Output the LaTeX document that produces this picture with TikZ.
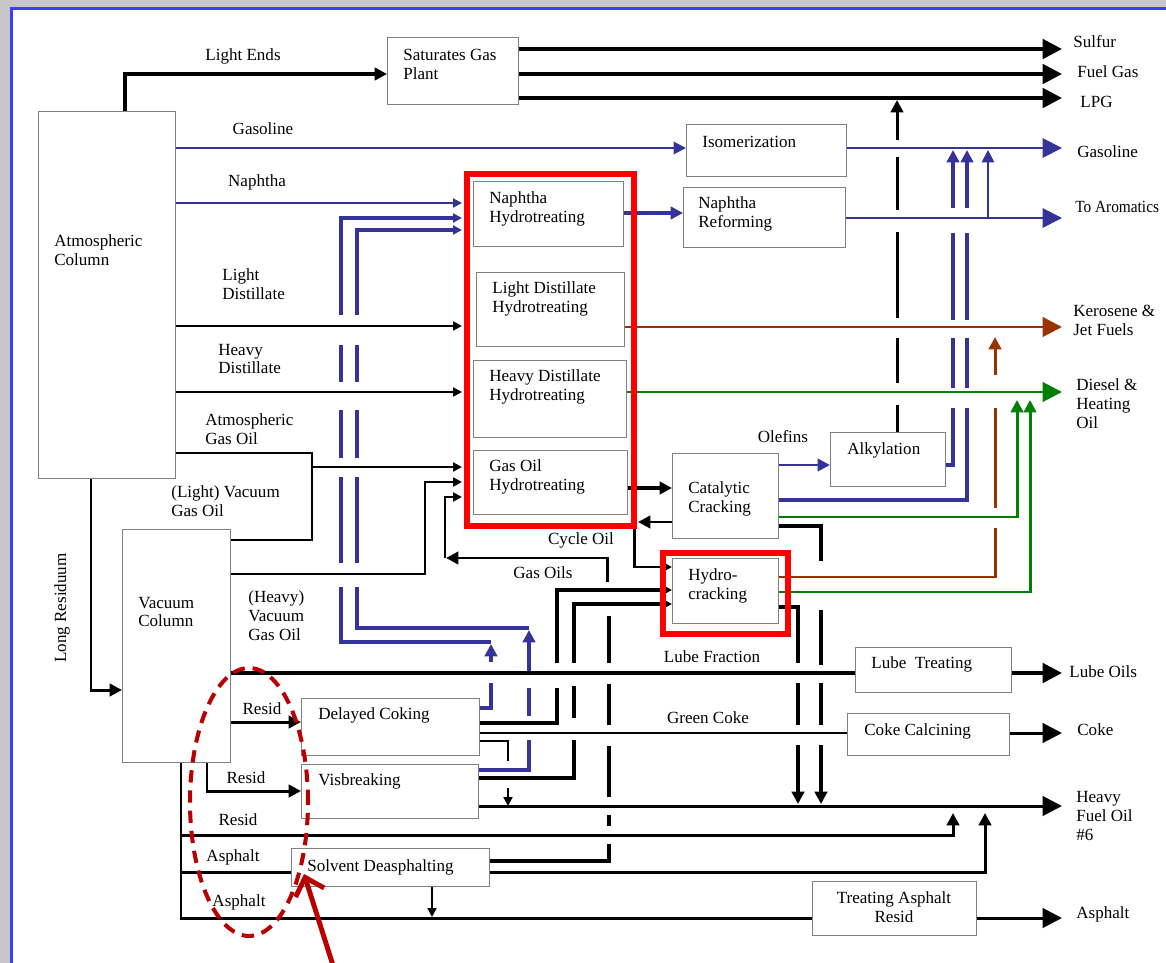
\documentclass[tikz,border=0pt]{standalone}
\usepackage{fontspec}
\setmainfont{Liberation Serif}
\usetikzlibrary{arrows.meta,calc}

\definecolor{navy}{RGB}{51,51,153}
\definecolor{rust}{RGB}{153,51,0}
\definecolor{leaf}{RGB}{0,128,0}
\definecolor{hired}{RGB}{255,0,0}
\definecolor{wine}{RGB}{185,0,0}
\definecolor{edgeblue}{RGB}{60,60,255}

\begin{document}
\begin{tikzpicture}[
    x=0.02cm, y=-0.02cm,
    box/.style 2 args={draw=black!50, line width=0.8pt, fill=white, inner sep=0pt, anchor=north west,
        minimum width=#1*0.02cm, minimum height=#2*0.02cm},
    hilite/.style 2 args={draw=hired, line width=3.4pt, inner sep=0pt, anchor=north west,
        minimum width=#1*0.02cm, minimum height=#2*0.02cm},
    txt/.style={font=\fontsize{9.7}{10.8}\selectfont, align=left, inner sep=0pt},
    blk/.style={line width=2.2pt},
    mdl/.style={line width=1.7pt},
    thn/.style={line width=1.2pt},
    nv/.style={draw=navy, line width=1.1pt},
    nvb/.style={draw=navy, line width=2pt},
    brn/.style={draw=rust, line width=1.7pt},
    grn/.style={draw=leaf, line width=1.7pt},
    tipL/.style={-{Triangle[length=11pt,width=11pt]}},
    tipM/.style={-{Triangle[length=7pt,width=7pt]}},
    tipS/.style={-{Triangle[length=5pt,width=5pt]}}
]
\useasboundingbox (0,0) rectangle (1166,963);

% frame
\fill[black!22] (0,0) rectangle (1166,963);
\draw[edgeblue, line width=2pt, fill=white] (11.5,8.5) rectangle (1200,1000);

% Units
\node[box={137}{367}] (atm) at (38,111) {};
\node[box={131}{67}] (sgp) at (387,37) {};
\node[box={160}{52}] (iso) at (686,124) {};
\node[box={162}{60}] (nref) at (683,187) {};
\node[box={150}{65}] (nht) at (473,181) {};
\node[box={148}{74}] (ldh) at (476,272) {};
\node[box={153}{77}] (hdh) at (473,360) {};
\node[box={154}{64}] (goh) at (473,450) {};
\node[box={106}{85}] (fcc) at (672,453) {};
\node[box={115}{54}] (alky) at (830,432) {};
\node[box={106}{65}] (hcr) at (672,558) {};
\node[box={108}{233}] (vac) at (122,529) {};
\node[box={178}{57}] (dcok) at (301,698) {};
\node[box={177}{54}] (visb) at (301,764) {};
\node[box={198}{38}] (sda) at (291,848) {};
\node[box={156}{45}] (lube) at (855,647) {};
\node[box={162}{42}] (coke) at (847,713) {};
\node[box={164}{54}] (tar) at (812,881) {};

% Unit names
\node[txt, anchor=west] (atmt) at (54,250) {Atmospheric\\Column};
\node[txt, anchor=west] (sgpt) at (403,64) {Saturates Gas\\Plant};
\node[txt, anchor=west] (isot) at (702,142) {Isomerization};
\node[txt, anchor=west] (nreft) at (698,214) {Naphtha\\Reforming};
\node[txt, anchor=west] (nhtt) at (489,209) {Naphtha\\Hydrotreating};
\node[txt, anchor=west] (ldht) at (492,299) {Light Distillate\\Hydrotreating};
\node[txt, anchor=west] (hdht) at (489,387) {Heavy Distillate\\Hydrotreating};
\node[txt, anchor=west] (goht) at (489,477) {Gas Oil\\Hydrotreating};
\node[txt, anchor=west] (fcct) at (688,499) {Catalytic\\Cracking};
\node[txt, anchor=west] (alkyt) at (847,450) {Alkylation};
\node[txt, anchor=west] (hcrt) at (688,586) {Hydro-\\cracking};
\node[txt, anchor=west] (vact) at (138,612) {Vacuum\\Column};
\node[txt, anchor=west] (dcokt) at (318,715) {Delayed Coking};
\node[txt, anchor=west] (visbt) at (318,781) {Visbreaking};
\node[txt, anchor=west] (sdat) at (307,867) {Solvent Deasphalting};
\node[txt, anchor=west] (lubet) at (871,664) {Lube\ \ Treating};
\node[txt, anchor=west] (coket) at (864,731) {Coke Calcining};
\node[txt, align=center] (tart) at (894,907) {Treating Asphalt\\Resid};

% Atmospheric column cuts
\draw[blk, tipM] (atm.north -| 125,0) |- (sgp.west |- 0,74);
\foreach \yy in {49,74,98} \draw[blk, tipL] (sgp.east |- 0,\yy) -- (1062,\yy);
\draw[nv, tipM] (atm.east |- 0,148) -- (iso.west |- 0,148);
\draw[nv, tipL] (iso.east |- 0,148) -- (1062,148);
\draw[nv, tipS] (atm.east |- 0,203) -- (462,203);
\draw[thn, tipS] (atm.east |- 0,326) -- (462,326);
\draw[thn, tipS] (atm.east |- 0,392) -- (462,392);
\draw[mdl] (atm.east |- 0,453) -- (312,453) -- (312,540) -- (vac.east |- 0,540);
\draw[thn, tipS] (312,467) -- (462,467);
\draw[mdl, tipS] (vac.east |- 0,574) -- (425,574) -- (425,482) -- (462,482);
\draw[mdl, tipM] (atm.south -| 91,0) |- (vac.west |- 0,690);

% Hydrotreater products
\draw[nvb, tipM] (nht.east |- 0,213) -- (nref.west |- 0,213);
\draw[nv, tipL] (nref.east |- 0,218) -- (1062,218);
\draw[brn, tipL] (ldh.east |- 0,327) -- (1062,327);
\draw[grn, tipL] (hdh.east |- 0,392) -- (1062,392);
\draw[blk, tipM] (goh.east |- 0,488) -- (fcc.west |- 0,488);

% Cycle oil and gas oils
\draw[mdl, tipM] (fcc.west |- 0,522) -- (638,522);
\draw[mdl, tipS] (634,526) -- (634,567) -- (hcr.west |- 0,567);
\draw[mdl, tipM] (607,582) -- (607,558) -- (446,558);
\draw[mdl, tipS] (445,558) -- (445,497) -- (462,497);

% Catalytic cracking products
\draw[nv, line width=1.6pt, tipM] (fcc.east |- 0,465) -- (alky.west |- 0,465);
\draw[nvb] (fcc.east |- 0,500) -- (967,500) -- (967,408);
\draw[grn, tipM] (fcc.east |- 0,517) -- (1017,517) -- (1017,400);
\draw[blk] (fcc.east |- 0,526) -- (821,526) -- (821,561);
\foreach \a/\b in {610/665, 683/725} \draw[blk] (821,\a) -- (821,\b);
\draw[blk, tipM] (821,745) -- (821,804);

% Alkylation
\draw[mdl] (alky.north -| 897,0) -- (897,405);
\foreach \a/\b in {383/338, 318/232, 210/157} \draw[mdl] (897,\a) -- (897,\b);
\draw[mdl, tipM] (897,140) -- (897,100);
\draw[nvb] (alky.east |- 0,465) -- (953,465) -- (953,408);
\foreach \xx in {953,967} {
  \foreach \a/\b in {388/338, 320/233} \draw[nvb] (\xx,\a) -- (\xx,\b);
  \draw[nvb, tipM] (\xx,208) -- (\xx,150);
}
\draw[nv, tipM] (988,218) -- (988,150);

% Hydrocracking products
\draw[brn] (hcr.east |- 0,577) -- (995,577) -- (995,528);
\draw[brn] (995,508) -- (995,408);
\draw[brn, tipM] (995,375) -- (995,337);
\draw[grn, tipM] (hcr.east |- 0,592) -- (1030,592) -- (1030,400);
\draw[blk] (hcr.east |- 0,607) -- (798,607) -- (798,663);
\draw[blk] (798,683) -- (798,725);
\draw[blk, tipM] (798,745) -- (798,804);

% Hydrocracker feeds
\draw[blk] (dcok.east |- 0,723) -- (557,723) -- (557,688);
\draw[blk, tipS] (557,663) -- (557,590) -- (hcr.west |- 0,590);
\draw[blk] (visb.east |- 0,778) -- (574,778) -- (574,740);
\draw[blk] (574,718) -- (574,686);
\draw[blk, tipS] (574,663) -- (574,604) -- (hcr.west |- 0,604);

% Deasphalted oil
\draw[blk] (sda.east |- 0,861) -- (609,861) -- (609,844);
\foreach \a/\b in {826/815, 797/746, 725/684, 663/616} \draw[blk] (609,\a) -- (609,\b);

% Naphtha returns
\draw[nvb] (dcok.east |- 0,708) -- (491,708) -- (491,683);
\draw[nvb, tipM] (491,662) -- (491,644);
\draw[nvb] (491,642) -- (341,642) -- (341,587);
\draw[nvb] (visb.east |- 0,770) -- (529,770) -- (529,740);
\draw[nvb] (529,716) -- (529,688);
\draw[nvb, tipM] (529,671) -- (529,630);
\draw[nvb] (529,628) -- (357,628) -- (357,587);
\foreach \xx in {341,357}
  \foreach \a/\b in {563/477, 458/410, 382/345} \draw[nvb] (\xx,\a) -- (\xx,\b);
\draw[nvb, tipS] (341,315) -- (341,218) -- (462,218);
\draw[nvb, tipS] (357,315) -- (357,230) -- (462,230);

% Residue handling
\draw[thn] (dcok.east |- 0,741) -- (508,741) -- (508,761);
\draw[thn, tipS] (508,788) -- (508,806);
\draw[thn] (dcok.east |- 0,733) -- (coke.west |- 0,733);
\draw[blk] (vac.east |- 0,673) -- (lube.west |- 0,673);
\draw[blk, tipL] (lube.east |- 0,673) -- (1062,673);
\draw[mdl, tipL] (coke.east |- 0,733) -- (1062,733);
\draw[mdl, tipL] (visb.east |- 0,806) -- (1062,806);
\draw[mdl, tipM] (vac.east |- 0,722) -- (dcok.west |- 0,722);
\draw[mdl, tipM] (vac.south -| 207,0) |- (visb.west |- 0,791);
\draw[mdl] (vac.south -| 181,0) -- (181,918) -- (tar.west |- 0,918);
\draw[mdl, tipM] (181,835) -- (953,835) -- (953,813);
\draw[mdl] (181,872) -- (sda.west |- 0,872);
\draw[mdl, tipM] (sda.east |- 0,872) -- (985,872) -- (985,813);
\draw[thn, tipS] (sda.south -| 432,0) -- (432,917);
\draw[mdl, tipL] (tar.east |- 0,918) -- (1062,918);

% Stream labels
\node[txt] (lends) at (243,56) {Light Ends};
\node[txt] (lgaso) at (263,129) {Gasoline};
\node[txt] (lnaph) at (257,182) {Naphtha};
\node[txt, anchor=west] (lldist) at (222,284) {Light\\Distillate};
\node[txt, anchor=west] (lhdist) at (218,359) {Heavy\\Distillate};
\node[txt, anchor=west] (lago) at (205,429) {Atmospheric\\Gas Oil};
\node[txt, anchor=west] (llvgo) at (171,501) {(Light) Vacuum\\Gas Oil};
\node[txt, anchor=west] (lhvgo) at (248,616) {(Heavy)\\Vacuum\\Gas Oil};
\node[txt, rotate=90] (llres) at (62,608) {Long Residuum};
\node[txt] (lres1) at (262,709) {Resid};
\node[txt] (lres2) at (246,778) {Resid};
\node[txt] (lres3) at (238,820) {Resid};
\node[txt] (lasp1) at (233,857) {Asphalt};
\node[txt] (lasp2) at (239,902) {Asphalt};
\node[txt] (lcyc) at (581,540) {Cycle Oil};
\node[txt] (lgoil) at (543,573) {Gas Oils};
\node[txt] (lolef) at (783,437) {Olefins};
\node[txt] (llube) at (712,657) {Lube Fraction};
\node[txt] (lgcoke) at (708,718) {Green Coke};

% Products
\node[txt, anchor=west] (psul) at (1073,42) {Sulfur};
\node[txt, anchor=west] (pfg) at (1077,72) {Fuel Gas};
\node[txt, anchor=west] (plpg) at (1080,102) {LPG};
\node[txt, anchor=west] (pgas) at (1077,152) {Gasoline};
\node[txt, anchor=west, xscale=0.9] (parom) at (1075,207) {To Aromatics};
\node[txt, anchor=west] (pker) at (1073,320) {Kerosene \&\\Jet Fuels};
\node[txt, anchor=west] (pdsl) at (1076,404) {Diesel \&\\Heating\\Oil};
\node[txt, anchor=west] (plube) at (1069,672) {Lube Oils};
\node[txt, anchor=west] (pcoke) at (1077,730) {Coke};
\node[txt, anchor=west] (phfo) at (1076,816) {Heavy\\Fuel Oil\\\#6};
\node[txt, anchor=west] (pasp) at (1076,914) {Asphalt};

% Highlights
\node[hilite={167}{352}] (htgrp) at (464,171) {};
\node[hilite={125}{81}] (hcgrp) at (660,550) {};
\draw[wine, line width=2.3pt, dash pattern=on 7pt off 4.5pt] (249,802) ellipse [x radius=1.18cm, y radius=2.68cm];
\coordinate (ptrfoot) at (337,978);
\coordinate (ptrtip) at (304,874);
\draw[wine, line width=2.8pt, -{Straight Barb[length=9pt,width=17pt]}] (ptrfoot) -- (ptrtip);

\end{tikzpicture}
\end{document}
